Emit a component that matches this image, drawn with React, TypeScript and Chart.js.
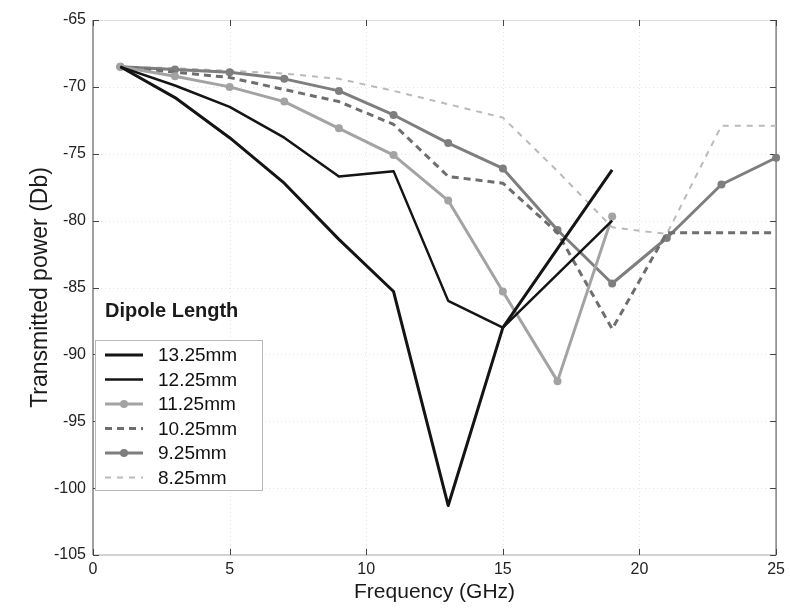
import React, { useEffect, useRef } from 'react';
import { Chart, registerables } from 'chart.js';

Chart.register(...registerables);

// ---- data ----
const frequencies = [1, 3, 5, 7, 9, 11, 13, 15, 17, 19, 21, 23, 25];
const seriesLabels = ['13.25mm', '12.25mm', '11.25mm', '10.25mm', '9.25mm', '8.25mm'];
const dipole1325 = [-68.5, -70.8, -73.8, -77.2, -81.4, -85.3, -101.3, -88.0, -82.1, -76.2];
const dipole1225 = [-68.5, -69.9, -71.5, -73.8, -76.7, -76.3, -86.0, -88.0, -84.0, -80.0];
const dipole1125 = [-68.5, -69.2, -70.0, -71.1, -73.1, -75.1, -78.5, -85.3, -92.0, -79.7];
const dipole1025 = [-68.5, -68.9, -69.3, -70.2, -71.1, -72.8, -76.7, -77.2, -80.9, -88.1, -80.9, -80.9, -80.9];
const dipole925 = [-68.5, -68.7, -68.9, -69.4, -70.3, -72.1, -74.2, -76.1, -80.7, -84.7, -81.3, -77.3, -75.3];
const dipole825 = [-68.5, -68.6, -68.8, -69.0, -69.4, -70.3, -71.3, -72.3, -76.3, -80.5, -81.0, -72.9, -72.9];
const xTickValues = [0, 5, 10, 15, 20, 25];
const yTickValues = [-105, -100, -95, -90, -85, -80, -75, -70, -65];
const legendTitle = 'Dipole Length';
const xTitle = 'Frequency (GHz)';
const yTitle = 'Transmitted power (Db)';

const FONT = "'Liberation Sans', Arial, Helvetica, sans-serif";

const toPoints = (vals: number[]) => vals.map((v, i) => ({ x: frequencies[i], y: v }));

const frameTicksPlugin = {
  id: 'frameTicks',
  beforeDatasetsDraw(chart: any) {
    const { ctx, chartArea } = chart;
    const xs = chart.scales.x;
    const ys = chart.scales.y;
    const { left, right, top, bottom } = chartArea;
    ctx.save();
    // faint dotted grid
    ctx.strokeStyle = '#e4e4e4';
    ctx.lineWidth = 1;
    ctx.setLineDash([1, 3]);
    xTickValues.forEach((v) => {
      const px = Math.round(xs.getPixelForValue(v)) + 0.5;
      if (v === xTickValues[0] || v === xTickValues[xTickValues.length - 1]) return;
      ctx.beginPath(); ctx.moveTo(px, top); ctx.lineTo(px, bottom); ctx.stroke();
    });
    yTickValues.forEach((v) => {
      const py = Math.round(ys.getPixelForValue(v)) + 0.5;
      if (v === yTickValues[0] || v === yTickValues[yTickValues.length - 1]) return;
      ctx.beginPath(); ctx.moveTo(left, py); ctx.lineTo(right, py); ctx.stroke();
    });
    ctx.setLineDash([]);
    // frame
    ctx.strokeStyle = '#dedede';
    ctx.lineWidth = 1;
    ctx.beginPath(); ctx.moveTo(left, top + 0.5); ctx.lineTo(right, top + 0.5); ctx.stroke();
    ctx.strokeStyle = '#c4c4c4';
    ctx.lineWidth = 1.5;
    ctx.beginPath(); ctx.moveTo(left, bottom); ctx.lineTo(right, bottom); ctx.stroke();
    ctx.strokeStyle = '#808080';
    ctx.lineWidth = 1.5;
    ctx.beginPath(); ctx.moveTo(left, top); ctx.lineTo(left, bottom); ctx.stroke();
    ctx.beginPath(); ctx.moveTo(right, top); ctx.lineTo(right, bottom); ctx.stroke();
    // inward ticks
    ctx.strokeStyle = '#444';
    ctx.lineWidth = 1;
    const tl = 6;
    xTickValues.forEach((v) => {
      const px = Math.round(xs.getPixelForValue(v)) + 0.5;
      ctx.beginPath(); ctx.moveTo(px, bottom); ctx.lineTo(px, bottom - tl); ctx.stroke();
      ctx.beginPath(); ctx.moveTo(px, top); ctx.lineTo(px, top + tl); ctx.stroke();
    });
    yTickValues.forEach((v) => {
      const py = Math.round(ys.getPixelForValue(v)) + 0.5;
      ctx.beginPath(); ctx.moveTo(left, py); ctx.lineTo(left + tl, py); ctx.stroke();
      ctx.beginPath(); ctx.moveTo(right, py); ctx.lineTo(right - tl, py); ctx.stroke();
    });
    ctx.restore();
  },
};

const legendPlugin = {
  id: 'dipoleLegend',
  afterDraw(chart: any) {
    const { ctx, chartArea } = chart;
    const left = chartArea.left + 2;
    const top = chartArea.top + 320;
    const w = 167;
    const h = 150;
    ctx.save();
    ctx.fillStyle = '#ffffff';
    ctx.fillRect(left, top, w, h);
    ctx.strokeStyle = '#b8b8b8';
    ctx.lineWidth = 1;
    ctx.strokeRect(left + 0.5, top + 0.5, w, h);
    ctx.fillStyle = '#1a1a1a';
    ctx.textBaseline = 'middle';
    ctx.textAlign = 'left';
    ctx.font = `bold 20px ${FONT}`;
    ctx.fillText(legendTitle, left + 10, top - 29);
    chart.data.datasets.forEach((ds: any, i: number) => {
      const y = top + 15 + i * 24.5;
      ctx.strokeStyle = ds.borderColor;
      ctx.lineWidth = ds.borderWidth;
      ctx.setLineDash(ds.borderDash || []);
      ctx.beginPath(); ctx.moveTo(left + 10, y); ctx.lineTo(left + 48, y); ctx.stroke();
      ctx.setLineDash([]);
      if (ds.pointRadius > 0) {
        ctx.fillStyle = ds.pointBackgroundColor;
        ctx.beginPath(); ctx.arc(left + 29, y, ds.pointRadius, 0, Math.PI * 2); ctx.fill();
      }
      ctx.fillStyle = '#111';
      ctx.font = `19px ${FONT}`;
      ctx.fillText(ds.label, left + 63, y + 1);
    });
    ctx.restore();
  },
};

export default function App() {
  const canvasRef = useRef<HTMLCanvasElement | null>(null);

  useEffect(() => {
    if (!canvasRef.current) return;
    const styles = [
      { borderColor: '#141414', borderWidth: 3, pointRadius: 0 },
      { borderColor: '#141414', borderWidth: 2.5, pointRadius: 0 },
      { borderColor: '#a3a3a3', borderWidth: 3, pointRadius: 4, pointBackgroundColor: '#a3a3a3' },
      { borderColor: '#6e6e6e', borderWidth: 3, pointRadius: 0, borderDash: [7, 5] },
      { borderColor: '#7e7e7e', borderWidth: 3, pointRadius: 4, pointBackgroundColor: '#7e7e7e' },
      { borderColor: '#bababa', borderWidth: 2, pointRadius: 0, borderDash: [6, 6] },
    ];
    const values = [dipole1325, dipole1225, dipole1125, dipole1025, dipole925, dipole825];
    const datasets = values.map((vals, i) => ({
      label: seriesLabels[i],
      data: toPoints(vals),
      fill: false,
      tension: 0,
      clip: 6,
      pointBorderWidth: 0,
      pointHoverRadius: 0,
      borderJoinStyle: 'round' as const,
      ...styles[i],
    }));

    const chart = new Chart(canvasRef.current, {
      type: 'line',
      data: { datasets },
      options: {
        animation: false,
        responsive: false,
        maintainAspectRatio: false,
        layout: { padding: { left: 0, right: 13, top: 20, bottom: 0 } },
        plugins: { legend: { display: false }, tooltip: { enabled: false } },
        scales: {
          x: {
            type: 'linear',
            min: 0,
            max: 25,
            afterBuildTicks: (s: any) => { s.ticks = xTickValues.map((v) => ({ value: v })); },
            afterFit: (s: any) => { s.height = 54; },
            grid: { display: false, drawTicks: false, tickLength: 0 },
            border: { display: false },
            ticks: { color: '#222', padding: 5, font: { family: FONT, size: 16 } },
            title: { display: true, text: xTitle, color: '#1a1a1a', font: { family: FONT, size: 21 }, padding: { top: 0, bottom: 4 } },
          },
          y: {
            type: 'linear',
            min: -105,
            max: -65,
            afterBuildTicks: (s: any) => { s.ticks = yTickValues.map((v) => ({ value: v })); },
            afterFit: (s: any) => { s.width = 93; },
            grid: { display: false, drawTicks: false, tickLength: 0 },
            border: { display: false },
            ticks: { color: '#222', padding: 7, font: { family: FONT, size: 16 } },
            title: { display: true, text: yTitle, color: '#1a1a1a', font: { family: FONT, size: 23 }, padding: { top: 27, bottom: 0 } },
          },
        },
      },
      plugins: [frameTicksPlugin, legendPlugin],
    });
    return () => chart.destroy();
  }, []);

  return (
    <div style={{ position: 'absolute', left: 0, top: 0, width: 790, height: 609, background: '#fff' }}>
      <canvas ref={canvasRef} width={790} height={609} style={{ display: 'block' }} />
    </div>
  );
}
